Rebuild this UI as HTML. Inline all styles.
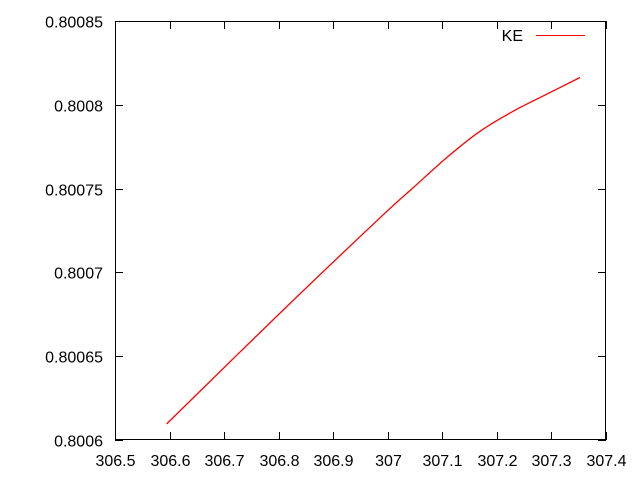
<!DOCTYPE html>
<html><head><meta charset="utf-8"><style>body{margin:0;background:#fff}svg{display:block}text{font-family:"Liberation Sans",sans-serif;font-size:16px;fill:#000}</style></head>
<body>
<svg id="chart" width="640" height="480"></svg>
<script>
const xTicks=[306.5,306.6,306.7,306.8,306.9,307,307.1,307.2,307.3,307.4];
const xTickLabels=["306.5","306.6","306.7","306.8","306.9","307","307.1","307.2","307.3","307.4"];
const yTicks=[0.8006,0.80065,0.8007,0.80075,0.8008,0.80085];
const yTickLabels=["0.8006","0.80065","0.8007","0.80075","0.8008","0.80085"];
const keX=[306.5948,306.8024,306.9857,307.0468,307.1080,307.1690,307.2301,307.2913,307.3523];
const keY=[0.8006096,0.8006757,0.8007326,0.8007506,0.8007685,0.8007842,0.8007962,0.8008063,0.8008163];
const L=115,R=606,T=21,B=440;
const sx=v=>L+(v-306.5)/(0.9)*(R-L);
const sy=v=>B-(v-0.8006)/(0.00025)*(B-T);
const svg=document.getElementById('chart');
const NS='http://www.w3.org/2000/svg';
function mk(t,a,p){const e=document.createElementNS(NS,t);for(const k in a)e.setAttribute(k,a[k]);(p||svg).appendChild(e);return e;}
const frame=mk('rect',{x:L+0.5,y:T+0.5,width:R-L-1,height:B-T-1,fill:'none',stroke:'#000','stroke-width':1});


xTicks.forEach((v,i)=>{const x=Math.round(sx(v))+0.5;
mk('line',{x1:x,y1:B,x2:x,y2:B-8,stroke:'#000'});mk('line',{x1:x,y1:T,x2:x,y2:T+8,stroke:'#000'});
const t=mk('text',{x:x,y:B+26,'text-anchor':'middle'});t.textContent=xTickLabels[i];

});
yTicks.forEach((v,i)=>{const y=Math.round(sy(v))+0.5;
mk('line',{x1:L,y1:y,x2:L+8,y2:y,stroke:'#000'});mk('line',{x1:R,y1:y,x2:R-8,y2:y,stroke:'#000'});
const t=mk('text',{x:L-12,y:y+6,'text-anchor':'end'});t.textContent=yTickLabels[i];

});
const P=keX.map((v,i)=>[sx(v),sy(keY[i])]);
let d='M'+P[0][0].toFixed(1)+','+P[0][1].toFixed(1);
for(let i=0;i<P.length-1;i++){const p0=P[Math.max(i-1,0)],p1=P[i],p2=P[i+1],p3=P[Math.min(i+2,P.length-1)];
const c1=[p1[0]+(p2[0]-p0[0])/6,p1[1]+(p2[1]-p0[1])/6],c2=[p2[0]-(p3[0]-p1[0])/6,p2[1]-(p3[1]-p1[1])/6];
d+='C'+c1.map(n=>n.toFixed(1)).join(',')+' '+c2.map(n=>n.toFixed(1)).join(',')+' '+p2.map(n=>n.toFixed(1)).join(',');}
const line=mk('path',{d:d,fill:'none',stroke:'#f00','stroke-width':1.3});


const lt=mk('text',{x:523,y:41,'text-anchor':'end'});lt.textContent='KE';


const ll=mk('line',{x1:536,y1:35.5,x2:585,y2:35.5,stroke:'#f00','stroke-width':1});


</script>
</body></html>
